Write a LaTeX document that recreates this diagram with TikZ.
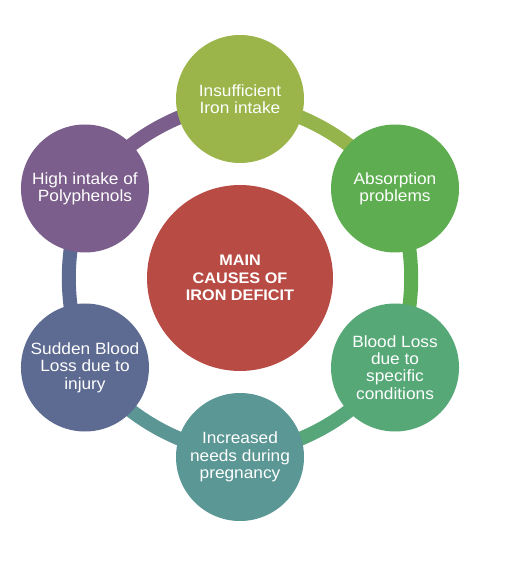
\documentclass[tikz,border=0pt]{standalone}
\usepackage{fontspec}
\setmainfont{Liberation Sans}[FakeStretch=1.06]
\usetikzlibrary{backgrounds}

\definecolor{cIntake}{HTML}{9BB54B}
\definecolor{cAbsorb}{HTML}{5EAD50}
\definecolor{cBleed}{HTML}{56A877}
\definecolor{cPregnant}{HTML}{5B9794}
\definecolor{cInjury}{HTML}{5D6A91}
\definecolor{cPoly}{HTML}{7B5E8B}
\definecolor{cCore}{HTML}{B84C44}

\begin{document}
\begin{tikzpicture}[
        cause/.style={circle, minimum size=128pt, inner sep=0pt, align=center,
            text=white, font=\fontsize{16.3}{17.3}\selectfont},
        core/.style={circle, minimum size=186pt, inner sep=0pt, align=center,
            text=white, font=\bfseries\fontsize{15.3}{17.3}\selectfont},
        link/.style={line width=14pt}]
        \useasboundingbox (-240pt,-283pt) rectangle (265pt,278pt);
        \node[core, fill=cCore] (main) at (0,0) {MAIN\\CAUSES OF\\IRON DEFICIT};
        \node[cause, fill=cIntake] (intake) at (90:179pt) {Insufficient\\Iron intake};
        \node[cause, fill=cAbsorb] (absorb) at (30:179pt) {Absorption\\problems};
        \node[cause, fill=cBleed] (bleed) at (-30:179pt) {Blood Loss\\due to\\specific\\conditions};
        \node[cause, fill=cPregnant] (pregnant) at (-90:179pt) {Increased\\needs during\\pregnancy};
        \node[cause, fill=cInjury] (injury) at (210:179pt) {Sudden Blood\\Loss due to\\injury};
        \node[cause, fill=cPoly] (poly) at (150:179pt) {High intake of\\Polyphenols};
        % ring behind the circles
        \begin{scope}[on background layer]
            \draw[link, cIntake!90!cAbsorb] (intake.center) to[bend left=18] (absorb.center);
            \draw[link, cAbsorb!95!cBleed] (absorb.center) to[bend left=18] (bleed.center);
            \draw[link, cBleed!90!cPregnant] (bleed.center) to[bend left=18] (pregnant.center);
            \draw[link, cPregnant!95!cInjury] (pregnant.center) to[bend left=18] (injury.center);
            \draw[link, cInjury] (injury.center) to[bend left=18] (poly.center);
            \draw[link, cPoly] (poly.center) to[bend left=18] (intake.center);
        \end{scope}
    \end{tikzpicture}
\end{document}
